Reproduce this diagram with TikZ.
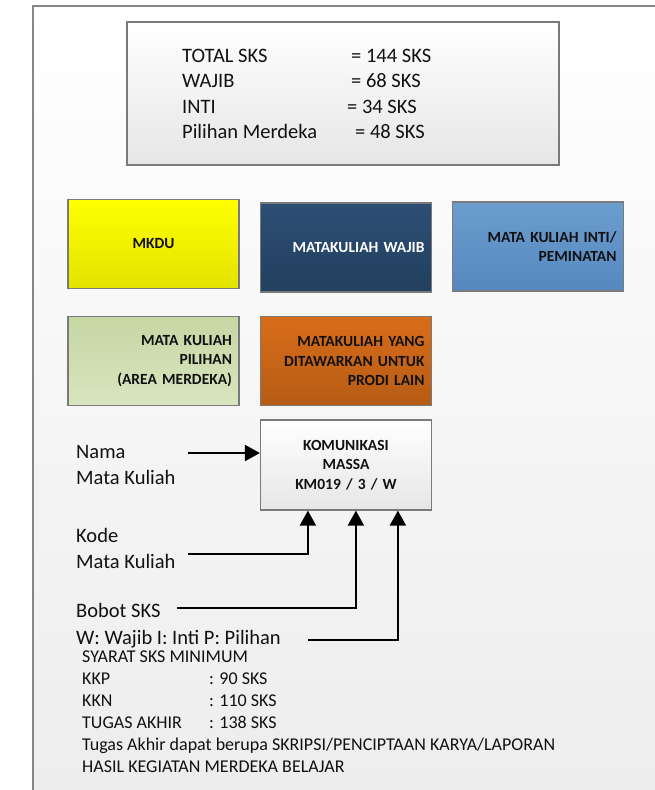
\documentclass[tikz,border=0pt]{standalone}
\usepackage{fontspec}
\setmainfont{Carlito}
\usetikzlibrary{arrows.meta,calc}
\definecolor{framecol}{HTML}{868686}
\definecolor{boxborder}{HTML}{7A7A7A}
\definecolor{bgbottom}{HTML}{EDEDED}
\definecolor{whitebot}{HTML}{E6E6E6}
\definecolor{yeltop}{HTML}{FFFF00}
\definecolor{yelbot}{HTML}{E3E300}
\definecolor{dbtop}{HTML}{2D4E74}
\definecolor{dbbot}{HTML}{223F5E}
\definecolor{lbtop}{HTML}{6C9DCF}
\definecolor{lbbot}{HTML}{5688BF}
\definecolor{grtop}{HTML}{C6D6A4}
\definecolor{grbot}{HTML}{D9E5BF}
\definecolor{ortop}{HTML}{D86D1A}
\definecolor{orbot}{HTML}{B65C15}
\definecolor{txt}{HTML}{111111}
\begin{document}
\begin{tikzpicture}[x=1pt,y=-1pt,
  box/.style={draw=boxborder, line width=1.2pt, minimum width=171pt, minimum height=89pt,
    text width=157pt, inner xsep=7pt, inner ysep=0pt,
    font=\bfseries\fontsize{15.5}{19.3}\selectfont, align=right, text=txt},
  lbl/.style={anchor=base west, inner sep=0pt, font=\fontsize{20.5}{25}\selectfont, text=txt},
  small/.style={anchor=base west, inner sep=0pt, font=\fontsize{18}{22}\selectfont, text=txt},
  arr/.style={line width=2pt, draw=black, -{Triangle[length=15pt,width=16pt]}}
]
\useasboundingbox (0,0) rectangle (655,790);
\fill[white] (0,0) rectangle (655,790);
\shade[top color=white, bottom color=bgbottom] (33,6) rectangle (655,790);
\draw[framecol, line width=2pt] (33,790) -- (33,6) -- (655,6);

% summary box
\node[draw=boxborder, line width=1.2pt, top color=white, bottom color=whitebot,
  minimum width=432pt, minimum height=143pt, inner sep=0pt] (sum) at (343,93.5) {};
\node[lbl] (t1) at (182,62) {TOTAL SKS};
\node[lbl] (t1v) at (351,62) {= 144 SKS};
\node[lbl] (t2) at (182,87.7) {WAJIB};
\node[lbl] (t2v) at (351,87.7) {= 68 SKS};
\node[lbl] (t3) at (182,113.3) {INTI};
\node[lbl] (t3v) at (347,113.3) {= 34 SKS};
\node[lbl] (t4) at (182,138.3) {Pilihan Merdeka};
\node[lbl] (t4v) at (355,138.3) {= 48 SKS};

% category boxes
\node[box, align=center, top color=yeltop, bottom color=yelbot] (mkdu) at (153.5,244) {MKDU};
\node[box, top color=dbtop, bottom color=dbbot, text=white] (wajib) at (346,247.5) {MATAKULIAH WAJIB};
\node[box, top color=lbtop, bottom color=lbbot] (inti) at (538,246.5) {MATA KULIAH INTI/\\PEMINATAN};
\node[box, top color=grtop, bottom color=grbot] (pil) at (153.5,361) {MATA KULIAH\\PILIHAN\\(AREA MERDEKA)};
\node[box, top color=ortop, bottom color=orbot] (oth) at (346,361) {MATAKULIAH YANG\\DITAWARKAN UNTUK\\PRODI LAIN};

% example box
\node[box, align=center, top color=white, bottom color=whitebot, minimum height=90pt] (kom) at (346,465)
  {KOMUNIKASI\\MASSA\\KM019 / 3 / W};

% labels
\node[lbl] (nm1) at (76,458.5) {Nama};
\node[lbl] (nm2) at (76,484) {Mata Kuliah};
\node[lbl] (kd1) at (76,542.5) {Kode};
\node[lbl] (kd2) at (76,568.5) {Mata Kuliah};
\node[lbl] (bb1) at (76,617) {Bobot SKS};
\node[lbl] (wj1) at (76,644) {W: Wajib I: Inti P: Pilihan};

% connectors
\coordinate (nmE) at (188,453);
\coordinate (kdE) at (188,554);
\coordinate (bbE) at (177,608);
\coordinate (wjE) at (308,640);
\draw[arr] (nmE) -- (nmE -| kom.west);
\draw[arr] (kdE) -| ($(kom.south west)+(48,0)$);
\draw[arr] (bbE) -| ($(kom.south west)+(96,0)$);
\draw[arr] (wjE) -| ($(kom.south west)+(138,0)$);

% bottom text
\node[small] (s1) at (82,662.5) {SYARAT SKS MINIMUM};
\node[small] (s2) at (82,684.5) {KKP};
\node[small] (s2v) at (209,684.5) {: 90 SKS};
\node[small] (s3) at (82,706.5) {KKN};
\node[small] (s3v) at (209,706.5) {: 110 SKS};
\node[small] (s4) at (82,728.5) {TUGAS AKHIR};
\node[small] (s4v) at (209,728.5) {: 138 SKS};
\node[small] (s5) at (82,750.5) {Tugas Akhir dapat berupa SKRIPSI/PENCIPTAAN KARYA/LAPORAN};
\node[small] (s6) at (82,772.5) {HASIL KEGIATAN MERDEKA BELAJAR};
\end{tikzpicture}
\end{document}
